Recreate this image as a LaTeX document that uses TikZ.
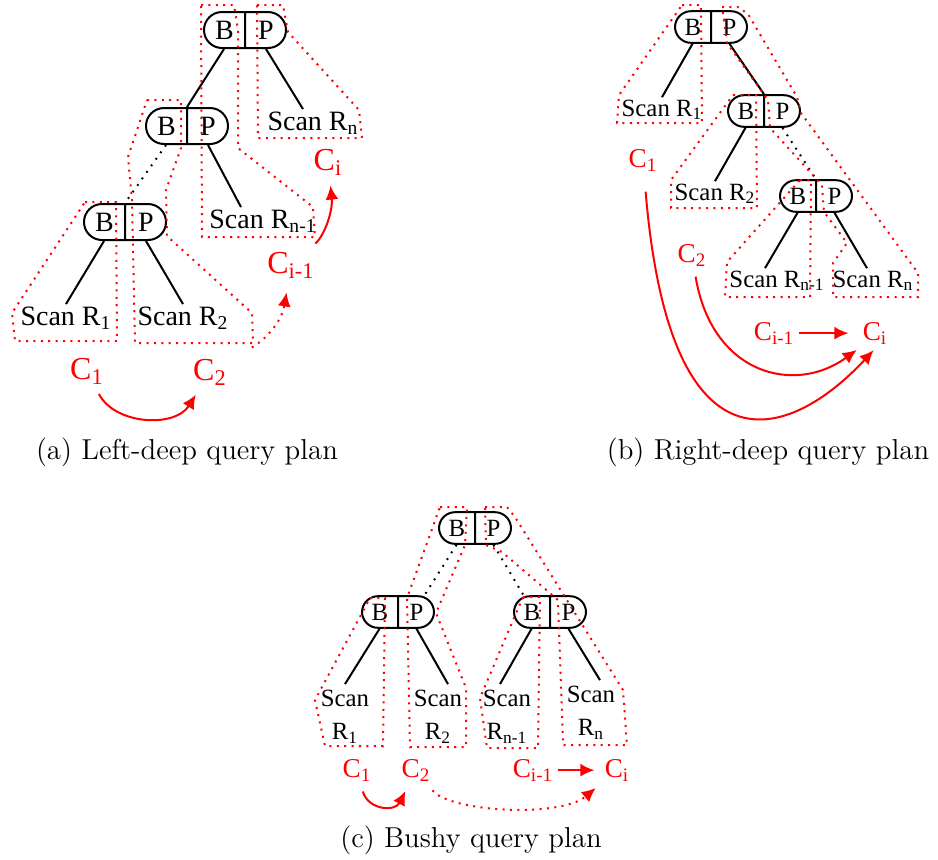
\documentclass[tikz,border=0pt]{standalone}
\usepackage{fontspec}
\newfontfamily\timesfont{Liberation Serif}
\usetikzlibrary{shapes.multipart,arrows.meta}
\newcommand{\planfonta}{\timesfont\fontsize{14}{17}\selectfont}
\newcommand{\planfontb}{\timesfont\fontsize{12.4}{16.5}\selectfont}

\begin{document}
\begin{tikzpicture}[x=0.5pt,y=-0.5pt]
    %styles
    \tikzstyle{hashjoin}=[rectangle split,rectangle split horizontal,rectangle split parts=2,draw,line width=1pt,rounded corners=9pt,text width=9pt,align=center,inner xsep=5.5pt,inner ysep=4.25pt,text height=9.5pt,text depth=0pt,font=\planfonta]
    \tikzstyle{hashjoinsm}=[hashjoin,rounded corners=8pt,text width=8pt,inner xsep=4.75pt,inner ysep=3.7pt,text height=8.4pt,font=\planfontb]
    \tikzstyle{scan}=[anchor=base,inner sep=1pt,font=\planfonta]
    \tikzstyle{scansm}=[scan,font=\planfontb]
    \tikzstyle{scantwo}=[align=center,inner xsep=1pt,inner ysep=3pt,font=\planfontb]
    \tikzstyle{pipelbl}=[anchor=base,inner sep=2pt,red,font=\timesfont\fontsize{16}{18}\selectfont]
    \tikzstyle{pipelblsm}=[pipelbl,font=\timesfont\fontsize{13.6}{16}\selectfont]
    \tikzstyle{child}=[line width=1pt]
    \tikzstyle{skipped}=[line width=1pt,dash pattern=on 0.9pt off 3.1pt]
    \tikzstyle{region}=[red,line width=1pt,dash pattern=on 1pt off 2.7pt]
    \tikzstyle{pipe}=[red,line width=1pt,-{Latex[length=7pt,width=6.5pt]},shorten <=3pt,shorten >=3pt]
    \tikzstyle{pipedot}=[pipe,dash pattern=on 1pt off 2.7pt]
    \tikzstyle{caption}=[font=\fontsize{14.4}{17}\selectfont]

    \useasboundingbox (0,0) rectangle (938,859);

    %(a) left-deep plan
    \node[hashjoin] (a3) at (245,30) {B\nodepart{two}P};
    \node[hashjoin] (a2) at (187,126) {B\nodepart{two}P};
    \node[hashjoin] (a1) at (125,222) {B\nodepart{two}P};
    \node[scan] (ar1) at (66,325) {Scan R\textsubscript{1}};
    \node[scan] (ar2) at (183,325) {Scan R\textsubscript{2}};
    \node[scan] (arn1) at (263,228) {Scan R\textsubscript{n-1}};
    \node[scan] (arn) at (313,130) {Scan R\textsubscript{n}};
    \node[pipelbl] (ac1) at (87,379) {C\textsubscript{1}};
    \node[pipelbl] (ac2) at (210,380) {C\textsubscript{2}};
    \node[pipelbl] (aci1) at (291,273) {C\textsubscript{i-1}};
    \node[pipelbl] (aci) at (328,170) {C\textsubscript{i}};
    \node[caption] (capa) at (187,452) {(a) Left-deep query plan};

    \draw[child] (a3.one south) -- (a2.north);
    \draw[child] (a3.two south) -- ([xshift=-5pt]arn.north);
    \draw[skipped] (a2.one south) -- (a1.north);
    \draw[child] (a2.two south) -- ([xshift=-11pt]arn1.north);
    \draw[child] (a1.one south) -- (ar1.north);
    \draw[child] (a1.two south) -- (ar2.north);

    \draw[region] (85,202) -- (116,202) -- (117,341) -- (15,341) -- (12,313) -- cycle;
    \draw[region] (147,100) -- (181,100) -- (181,148) -- (166,190) -- (167,236) -- (252,313) -- (253,343) -- (135,343) -- (132,200) -- (128,157) -- cycle;
    \draw[region] (201,5) -- (234,5) -- (238,30) -- (238,148) -- (313,207) -- (315,237) -- (202,237) -- cycle;
    \draw[region] (257,5) -- (283,5) -- (288,32) -- (359,110) -- (362,138) -- (258,138) -- cycle;

    \draw[pipe] (ac1) .. controls (115,425) and (175,428) .. (ac2);
    \draw[pipedot,shorten <=12pt,shorten >=5pt] (ac2) .. controls (268,338) and (282,320) .. (aci1);
    \draw[pipe] (aci1) .. controls (325,235) and (333,210) .. (aci);

    %(b) right-deep plan
    \node[hashjoinsm] (b3) at (711,27) {B\nodepart{two}P};
    \node[hashjoinsm] (b2) at (764,111) {B\nodepart{two}P};
    \node[hashjoinsm] (b1) at (816,196) {B\nodepart{two}P};
    \node[scansm] (br1) at (662,116) {Scan R\textsubscript{1}};
    \node[scansm] (br2) at (715,200) {Scan R\textsubscript{2}};
    \node[scansm] (brn1) at (777,287) {Scan R\textsubscript{n-1}};
    \node[scansm] (brn) at (873,287) {Scan R\textsubscript{n}};
    \node[pipelblsm] (bc1) at (643,167) {C\textsubscript{1}};
    \node[pipelblsm] (bc2) at (692,262) {C\textsubscript{2}};
    \node[pipelblsm] (bci1) at (774,340) {C\textsubscript{i-1}};
    \node[pipelblsm] (bci) at (875,340) {C\textsubscript{i}};
    \node[caption] (capb) at (768,452) {(b) Right-deep query plan};

    \draw[child] (b3.one south) -- (br1.north);
    \draw[child] (b3.two south) -- (b2.north);
    \draw[child] (b2.one south) -- (br2.north);
    \draw[skipped] (b2.two south) -- (b1.north);
    \draw[child] (b1.one south) -- ([xshift=-6pt]brn1.north);
    \draw[child] (b1.two south) -- ([xshift=-3pt]brn.north);

    \draw[region] (682,5) -- (701,5) -- (702,123) -- (617,123) -- (619,95) -- cycle;
    \draw[region] (733,95) -- (756,95) -- (757,208) -- (671,208) -- (671,180) -- cycle;
    \draw[region] (800,180) -- (811,180) -- (810,297) -- (725,297) -- (727,262) -- cycle;
    \draw[region] (722,7) -- (738,7) -- (748,14) -- (797,97) -- (801,113) -- (918,273) -- (918,297) -- (833,297) -- (833,263) -- (847,243) -- (824,212) -- (822,185) -- (770,128) -- (768,100) -- (727,43) -- cycle;

    \draw[pipe,shorten <=8pt,shorten >=1pt] (bc1) .. controls (670,484) and (790,440) .. (bci.south);
    \draw[pipe,shorten >=1pt] (bc2) .. controls (712,375) and (795,395) .. (bci.south west);
    \draw[pipe,shorten <=0pt,shorten >=5pt] (bci1) -- (bci);

    %(c) bushy plan
    \node[hashjoinsm] (c3) at (475,528) {B\nodepart{two}P};
    \node[hashjoinsm] (c2l) at (398,612) {B\nodepart{two}P};
    \node[hashjoinsm] (c2r) at (550,612) {B\nodepart{two}P};
    \node[scantwo] (cr1) at (345,717) {Scan\\R\textsubscript{1}};
    \node[scantwo] (cr2) at (438,717) {Scan\\R\textsubscript{2}};
    \node[scantwo] (crn1) at (507,717) {Scan\\R\textsubscript{n-1}};
    \node[scantwo] (crn) at (591,713) {Scan\\R\textsubscript{n}};
    \node[pipelblsm] (cc1) at (357,777) {C\textsubscript{1}};
    \node[pipelblsm] (cc2) at (416,777) {C\textsubscript{2}};
    \node[pipelblsm] (cci1) at (533,777) {C\textsubscript{i-1}};
    \node[pipelblsm] (cci) at (617,777) {C\textsubscript{i}};
    \node[caption] (capc) at (471,840) {(c) Bushy query plan};

    \draw[skipped] (c3.one south) -- ([xshift=4pt]c2l.two north);
    \draw[skipped] (c3.two south) -- ([xshift=-4pt]c2r.one north);
    \draw[child] (c2l.one south) -- (cr1.north);
    \draw[child] (c2l.two south) -- ([xshift=5pt]cr2.north);
    \draw[child] (c2r.one south) -- ([xshift=-3.5pt]crn1.north);
    \draw[child] (c2r.two south) -- ([xshift=4.5pt]crn.north);

    \draw[region] (370,598) -- (385,598) -- (383,746) -- (325,746) -- (315,700) -- (362,613) -- cycle;
    \draw[region] (440,507) -- (467,507) -- (465,545) -- (436,613) -- (466,688) -- (466,747) -- (410,747) -- (407,598) -- cycle;
    \draw[region] (523,597) -- (540,597) -- (538,748) -- (487,748) -- (480,698) -- (514,618) -- cycle;
    \draw[region] (485,507) -- (507,507) -- (515,517) -- (623,690) -- (627,745) -- (563,745) -- (558,600) -- (502,552) -- (486,545) -- cycle;

    \draw[pipe] (cc1) .. controls (368,810) and (395,812) .. (cc2);
    \draw[pipedot] (cc2) .. controls (450,812) and (560,818) .. (cci);
    \draw[pipe,shorten <=0pt] (cci1) -- (cci);
\end{tikzpicture}
\end{document}
